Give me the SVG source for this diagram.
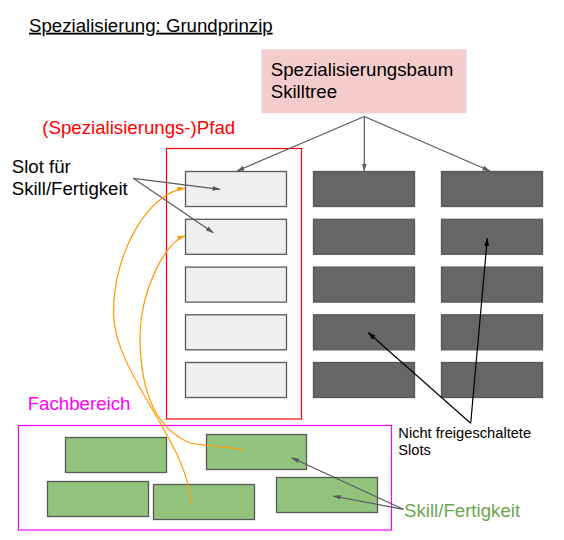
<svg xmlns="http://www.w3.org/2000/svg" width="564" height="540" viewBox="0 0 564 540">
  <style>
    text { font-family: "Liberation Sans", Arial, sans-serif; }
    .t14 { font-size: 18.67px; }
    .t11 { font-size: 14.67px; }
    .slot { fill: #efefef; stroke: #595959; stroke-width: 1.3; }
    .locked { fill: #666666; stroke: #595959; stroke-width: 1.3; }
    .skill { fill: #93c47d; stroke: #595959; stroke-width: 1.3; }
    .gray { fill: none; stroke: #595959; stroke-width: 1.2; }
    .black { fill: none; stroke: #000000; stroke-width: 1.2; }
    .orange { fill: none; stroke: #ff9900; stroke-width: 1.2; }
  </style>
  <defs>
    <marker id="ag" viewBox="0 0 8 6" refX="7.5" refY="3" markerWidth="8" markerHeight="6" markerUnits="userSpaceOnUse" orient="auto">
      <path d="M0,0.6 L8,3 L0,5.4 z" fill="#595959"/>
    </marker>
    <marker id="ab" viewBox="0 0 8 6" refX="7.5" refY="3" markerWidth="8" markerHeight="6" markerUnits="userSpaceOnUse" orient="auto">
      <path d="M0,0.6 L8,3 L0,5.4 z" fill="#000000"/>
    </marker>
    <marker id="ao" viewBox="0 0 8 6" refX="7.5" refY="3" markerWidth="8" markerHeight="6" markerUnits="userSpaceOnUse" orient="auto">
      <path d="M0,0.6 L8,3 L0,5.4 z" fill="#ff9900"/>
    </marker>
  </defs>
  <rect width="564" height="540" fill="#ffffff"/>

  <g id="title">
    <text class="t14" x="29" y="31.7" fill="#000000" text-decoration="underline">Spezialisierung: Grundprinzip</text>
  </g>

  <g id="tree">
    <rect x="261.5" y="49.3" width="205" height="64" fill="#f4cccc"/>
    <text class="t14" x="270.7" y="76" fill="#000000">Spezialisierungsbaum</text>
    <text class="t14" x="270.7" y="98.3" fill="#000000">Skilltree</text>
  </g>

  <g id="pfad-label">
    <text class="t14" x="42.3" y="133.5" fill="#ff0000">(Spezialisierungs-)Pfad</text>
  </g>

  <g id="pfad">
    <rect x="166.5" y="148.5" width="135" height="270.5" fill="none" stroke="#ff0000" stroke-width="1.2"/>
  </g>

  <g id="slot-label">
    <text class="t14" x="11.7" y="173.3" fill="#000000">Slot für</text>
    <text class="t14" x="11.7" y="195.3" fill="#000000">Skill/Fertigkeit</text>
  </g>

  <g id="slots-path">
    <rect class="slot" x="185.5" y="171.5" width="101" height="35"/>
    <rect class="slot" x="185.5" y="219.3" width="101" height="35"/>
    <rect class="slot" x="185.5" y="267.1" width="101" height="35"/>
    <rect class="slot" x="185.5" y="314.8" width="101" height="35"/>
    <rect class="slot" x="185.5" y="362.5" width="101" height="35"/>
  </g>

  <g id="slots-locked-2">
    <rect class="locked" x="313.5" y="171.5" width="101" height="35"/>
    <rect class="locked" x="313.5" y="219.3" width="101" height="35"/>
    <rect class="locked" x="313.5" y="267.1" width="101" height="35"/>
    <rect class="locked" x="313.5" y="314.8" width="101" height="35"/>
    <rect class="locked" x="313.5" y="362.5" width="101" height="35"/>
  </g>

  <g id="slots-locked-3">
    <rect class="locked" x="441.5" y="171.5" width="101" height="35"/>
    <rect class="locked" x="441.5" y="219.3" width="101" height="35"/>
    <rect class="locked" x="441.5" y="267.1" width="101" height="35"/>
    <rect class="locked" x="441.5" y="314.8" width="101" height="35"/>
    <rect class="locked" x="441.5" y="362.5" width="101" height="35"/>
  </g>

  <g id="fachbereich-label">
    <text class="t14" x="27.7" y="410" fill="#ff00ff">Fachbereich</text>
  </g>

  <g id="fachbereich">
    <rect x="18.5" y="425.5" width="373" height="104.5" fill="none" stroke="#ff00ff" stroke-width="1.2"/>
    <rect class="skill" x="65.5" y="437.5" width="101" height="35"/>
    <rect class="skill" x="206.5" y="434.5" width="100" height="35"/>
    <rect class="skill" x="47.5" y="481.5" width="101" height="35"/>
    <rect class="skill" x="153.5" y="484.5" width="101" height="35"/>
    <rect class="skill" x="276.5" y="477.5" width="101" height="35"/>
  </g>

  <g id="locked-label">
    <text class="t11" x="398.3" y="438.3" fill="#000000">Nicht freigeschaltete</text>
    <text class="t11" x="398.3" y="455" fill="#000000">Slots</text>
  </g>

  <g id="skill-label">
    <text class="t14" x="404" y="516.7" fill="#6aa84f">Skill/Fertigkeit</text>
  </g>

  <g id="connectors">
    <line class="gray" x1="364.3" y1="116.5" x2="237" y2="171" marker-end="url(#ag)"/>
    <line class="gray" x1="364.3" y1="116.5" x2="364.3" y2="171" marker-end="url(#ag)"/>
    <line class="gray" x1="364.3" y1="116.5" x2="490" y2="171" marker-end="url(#ag)"/>

    <line class="gray" x1="133.3" y1="178.3" x2="220" y2="189.3" marker-end="url(#ag)"/>
    <line class="gray" x1="133.3" y1="178.3" x2="213.3" y2="232.7" marker-end="url(#ag)"/>

    <line class="black" x1="470.7" y1="423.3" x2="368.3" y2="332.7" marker-end="url(#ab)"/>
    <line class="black" x1="470.7" y1="423.3" x2="487.3" y2="238.3" marker-end="url(#ab)"/>

    <line class="gray" x1="403.3" y1="509.3" x2="291.7" y2="457.7" marker-end="url(#ag)"/>
    <line class="gray" x1="403.3" y1="509.3" x2="333.3" y2="496" marker-end="url(#ag)"/>

    <path class="orange" d="M190.7,505 C190.7,445 113.5,373 113.5,313 C113.5,250 150,192 185,188.3" marker-end="url(#ao)"/>
    <path class="orange" d="M243.3,451.7 C243,447 200,446 190,443 C160,430 140,400 140,335 C141,290 165,242 185,236" marker-end="url(#ao)"/>
  </g>
</svg>
